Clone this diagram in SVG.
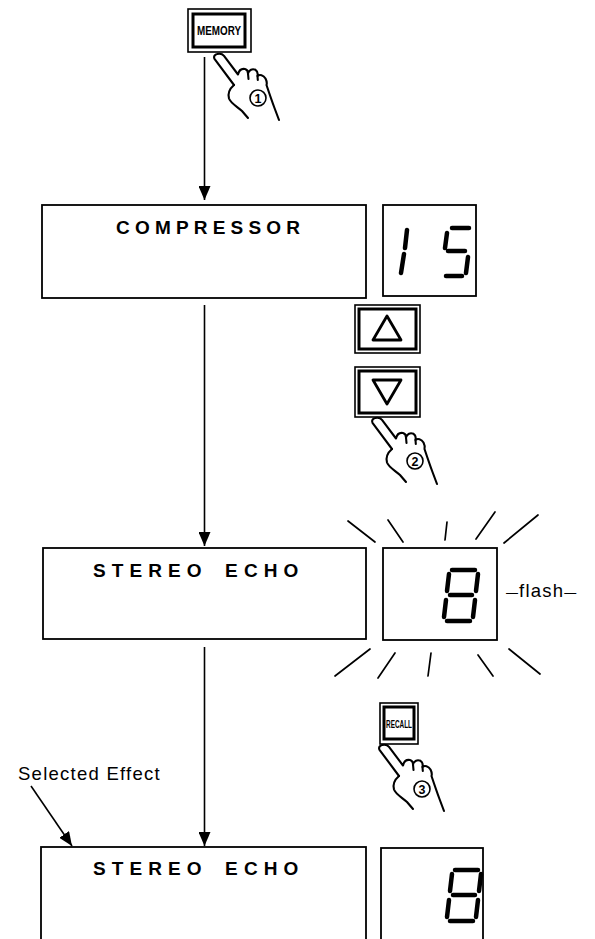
<svg xmlns="http://www.w3.org/2000/svg" width="595" height="939" viewBox="0 0 595 939">
<style>
.box{fill:#fff;stroke:#000;stroke-width:1.8}
.lbl{font-family:"Liberation Sans",Arial,sans-serif;font-size:19px;font-weight:bold;fill:#000}
.seg{stroke:#000;stroke-width:4.5;stroke-linecap:round;fill:none}
.ray{stroke:#000;stroke-width:1.7;stroke-linecap:round}
.conn{stroke:#000;stroke-width:1.6;fill:none}
.btnO{fill:#fff;stroke:#000;stroke-width:1.6}
.btnI{fill:#fff;stroke:#000;stroke-width:3}
.tri{fill:#fff;stroke:#000;stroke-width:2.8;stroke-linejoin:round}
.hand{fill:none;stroke:#000;stroke-width:2.1;stroke-linejoin:round;stroke-linecap:round}
.circ{fill:#fff;stroke:#000;stroke-width:1.6}
.num{font-family:"Liberation Sans",Arial,sans-serif;font-size:12.5px;font-weight:bold;text-anchor:middle}
.btxt{font-family:"Liberation Sans",Arial,sans-serif;font-weight:bold;text-anchor:middle}
.note{font-family:"Liberation Sans",Arial,sans-serif;font-size:18.5px;letter-spacing:1.25px}
</style>
<defs>
<marker id="ah" viewBox="0 0 14 12" refX="14" refY="6" markerWidth="14" markerHeight="12" orient="auto" markerUnits="userSpaceOnUse"><path d="M0,0 L14,6 L0,12 z" fill="#000"/></marker>
<g id="hand">
<path class="hand" d="M20,30 L0.5,3.8 C-0.7,1.5 1,-0.7 3.2,-1 C6,-1.6 8.5,-1 10,0.8 L24,19.5 C25,15 28,13.5 31,14 C33,14.5 34,16 34,18.5 C35,14.5 38.5,13.5 41.5,14.8 C43,15.8 44,18.5 43.5,21 C45.5,19 49.5,20 51.5,23.5 C53,26.5 53,28.5 52.5,30 C54.5,36 57.5,45 60.5,53 L65,65"/>
<path class="hand" d="M20,30 C16.5,33 13.5,38 15,43.5 C16.5,48 23,51.5 28,56 L34,63"/>
<path class="hand" d="M34,18.5 L34.5,24 M43.5,21 L43.8,25"/>
</g>
<g id="eight">
<path class="seg" d="M8,0 L31,0 M5,4 L3,21 M34,4 L32,21 M6,25 L28,25 M2,30 L0,47 M31,30 L29,47 M3,51 L26,51"/>
</g>
</defs>

<g id="connectors">
<line class="conn" x1="204.5" y1="57" x2="204.5" y2="200" marker-end="url(#ah)"/>
<line class="conn" x1="204.5" y1="305" x2="204.5" y2="546" marker-end="url(#ah)"/>
<line class="conn" x1="204.5" y1="647" x2="204.5" y2="846" marker-end="url(#ah)"/>
<line class="conn" x1="31" y1="786" x2="72" y2="846" marker-end="url(#ah)"/>
</g>

<g id="memory-button">
<rect class="btnO" x="188" y="9" width="63" height="43"/>
<rect class="btnI" x="193" y="14" width="52" height="33"/>
<text class="btxt" x="219" y="35" font-size="12.5" textLength="44" lengthAdjust="spacingAndGlyphs">MEMORY</text>
</g>
<g id="hand-1">
<use href="#hand" x="214" y="55"/>
<circle class="circ" cx="258" cy="98" r="8"/>
<text class="num" x="258" y="102.5">1</text>
</g>

<g id="compressor-display">
<rect class="box" x="42" y="205" width="324" height="93"/>
<text class="lbl" x="116" y="234" letter-spacing="5.2">COMPRESSOR</text>
</g>
<g id="number-15-display">
<rect class="box" x="383" y="205" width="93" height="91"/>
<path class="seg" d="M407,230 L405,248 M404,254 L401,273"/>
<path class="seg" d="M452,228 L469,228 M447,233 L445,248 M448,251 L465,251 M468,257 L466,273 M446,276 L462,276"/>
</g>

<g id="up-button">
<rect class="btnO" x="355" y="305" width="65" height="48"/>
<rect class="btnI" x="359" y="309" width="57" height="40"/>
<path class="tri" d="M387,316 L401,340 L373,340 z"/>
</g>
<g id="down-button">
<rect class="btnO" x="355" y="367" width="65" height="50"/>
<rect class="btnI" x="359" y="371" width="57" height="42"/>
<path class="tri" d="M373,380 L401,380 L387,404 z"/>
</g>
<g id="hand-2">
<use href="#hand" x="372" y="419"/>
<circle class="circ" cx="415" cy="461" r="8"/>
<text class="num" x="415" y="465.5">2</text>
</g>

<g id="stereo-echo-display">
<rect class="box" x="43" y="548" width="323" height="91"/>
<text class="lbl" x="93" y="577" letter-spacing="6.1" word-spacing="6">STEREO ECHO</text>
</g>
<g id="flash-display">
<rect class="box" x="383" y="548" width="114" height="92"/>
<use href="#eight" x="444" y="570"/>
<line class="ray" x1="348" y1="521" x2="375" y2="542"/>
<line class="ray" x1="388" y1="520" x2="403" y2="542"/>
<line class="ray" x1="447" y1="522" x2="445" y2="540"/>
<line class="ray" x1="495" y1="512" x2="476" y2="539"/>
<line class="ray" x1="538" y1="515" x2="504" y2="543"/>
<line class="ray" x1="370" y1="649" x2="335" y2="676"/>
<line class="ray" x1="395" y1="653" x2="378" y2="678"/>
<line class="ray" x1="431" y1="653" x2="428" y2="676"/>
<line class="ray" x1="478" y1="655" x2="493" y2="676"/>
<line class="ray" x1="509" y1="649" x2="540" y2="674"/>
<text class="note" x="506" y="597" font-size="17" letter-spacing="0.5"><tspan font-size="12" letter-spacing="1">—</tspan>flash<tspan font-size="12" letter-spacing="0">—</tspan></text>
</g>

<g id="recall-button">
<rect class="btnO" x="380" y="703" width="38" height="41"/>
<rect class="btnI" x="384" y="707" width="30" height="32"/>
<text class="btxt" x="399" y="727.5" font-size="10.5" textLength="26" lengthAdjust="spacingAndGlyphs">RECALL</text>
</g>
<g id="hand-3">
<use href="#hand" x="379" y="746"/>
<circle class="circ" cx="422" cy="789" r="8"/>
<text class="num" x="422" y="793.5">3</text>
</g>

<g id="selected-effect-label">
<text class="note" x="18" y="780">Selected Effect</text>
</g>

<g id="selected-display">
<rect class="box" x="41" y="847" width="325" height="100"/>
<text class="lbl" x="93" y="875" letter-spacing="6.1" word-spacing="6">STEREO ECHO</text>
</g>
<g id="selected-number-display">
<rect class="box" x="381" y="848" width="102" height="100"/>
<use href="#eight" x="447" y="870"/>
</g>
</svg>
